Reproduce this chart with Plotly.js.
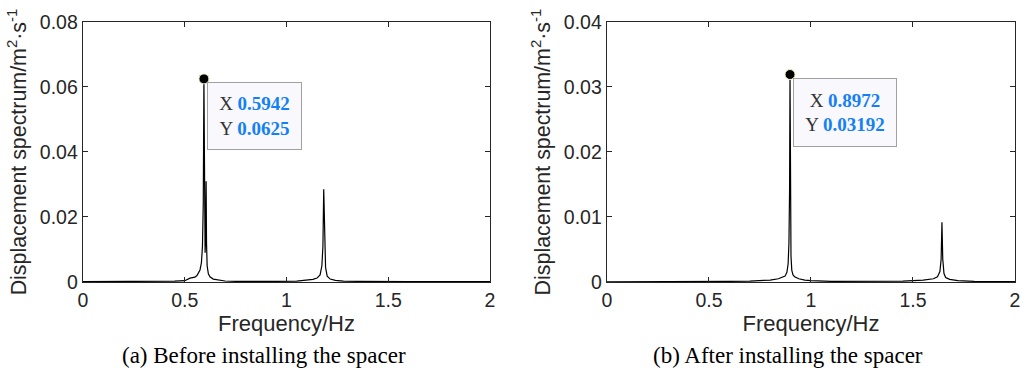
<!DOCTYPE html>
<html>
<head>
<meta charset="utf-8">
<script src="https://cdn.plot.ly/plotly-3.0.1.min.js"></script>
<style>html,body{margin:0;padding:0;background:#fff;}#chart{width:1021px;height:376px;}</style>
</head>
<body>
<div id="chart"></div>
<script>
// (a) Before installing the spacer
const freqA = [0, 0.1, 0.2, 0.3, 0.4, 0.45, 0.5, 0.526, 0.55, 0.56, 0.575, 0.582, 0.587, 0.591, 0.5942, 0.597, 0.6, 0.603, 0.605, 0.607, 0.61, 0.616, 0.624, 0.64, 0.67, 0.698, 0.75, 0.85, 0.95, 1.05, 1.1, 1.13, 1.15, 1.165, 1.174, 1.179, 1.183, 1.187, 1.192, 1.2, 1.215, 1.24, 1.28, 1.35, 1.45, 1.6, 1.8, 2.0];
const specA = [0.0001, 0.0001, 0.0001, 0.00012, 0.00018, 0.00025, 0.0004, 0.0012, 0.0015, 0.002, 0.0037, 0.006, 0.011, 0.024, 0.0625, 0.02, 0.009, 0.014, 0.031, 0.012, 0.005, 0.0025, 0.0016, 0.0009, 0.0005, 0.0003, 0.0002, 0.00015, 0.0002, 0.0003, 0.0005, 0.0008, 0.0012, 0.0022, 0.005, 0.011, 0.0285, 0.011, 0.0045, 0.0018, 0.0009, 0.0005, 0.0003, 0.0002, 0.00012, 0.0001, 0.0001, 0.0001];
// (b) After installing the spacer
const freqB = [0, 0.2, 0.4, 0.6, 0.7, 0.8, 0.84, 0.86, 0.873, 0.882, 0.888, 0.892, 0.895, 0.8972, 0.8995, 0.902, 0.906, 0.912, 0.92, 0.94, 0.97, 1.0, 1.1, 1.3, 1.45, 1.55, 1.6, 1.62, 1.632, 1.638, 1.642, 1.646, 1.652, 1.66, 1.68, 1.72, 1.8, 2.0];
const specB = [0.00003, 0.00003, 0.00005, 0.0001, 0.00015, 0.0003, 0.0005, 0.0007, 0.0009, 0.0015, 0.0028, 0.006, 0.014, 0.03192, 0.012, 0.004, 0.0018, 0.0011, 0.0008, 0.0005, 0.0003, 0.0002, 0.0001, 0.0001, 0.00015, 0.0003, 0.0005, 0.0008, 0.0016, 0.0035, 0.0092, 0.0035, 0.0013, 0.0007, 0.0004, 0.0002, 0.0001, 0.00005];

const xTicks = [0, 0.5, 1, 1.5, 2];
const xTickText = ['0', '0.5', '1', '1.5', '2'];
const yTicksA = [0, 0.02, 0.04, 0.06, 0.08];
const yTickTextA = ['0', '0.02', '0.04', '0.06', '0.08'];
const yTicksB = [0, 0.01, 0.02, 0.03, 0.04];
const yTickTextB = ['0', '0.01', '0.02', '0.03', '0.04'];

const xTitle = 'Frequency/Hz';
const yTitle = 'Displacement spectrum/m<sup>2</sup>·s<sup>-1</sup>';
const captionA = '(a) Before installing the spacer';
const captionB = '(b) After installing the spacer';

function peakIndex(arr) { let k = 0; arr.forEach((v, i) => { if (v > arr[k]) k = i; }); return k; }
const pA = peakIndex(specA), pB = peakIndex(specB);

const lineStyle = {color: '#000', width: 1.2};
const markerStyle = {color: '#000', size: 10, line: {color: '#f3eec0', width: 1}};

const traces = [
  {x: freqA, y: specA, type: 'scatter', mode: 'lines', line: lineStyle, xaxis: 'x', yaxis: 'y', hoverinfo: 'none'},
  {x: freqB, y: specB, type: 'scatter', mode: 'lines', line: lineStyle, xaxis: 'x2', yaxis: 'y2', hoverinfo: 'none'},
  {x: [freqA[pA]], y: [specA[pA]], type: 'scatter', mode: 'markers', marker: markerStyle, xaxis: 'x', yaxis: 'y', cliponaxis: false},
  {x: [freqB[pB]], y: [specB[pB]], type: 'scatter', mode: 'markers', marker: markerStyle, xaxis: 'x2', yaxis: 'y2', cliponaxis: false}
];

const tickFont = {family: 'Liberation Sans, Arial, sans-serif', size: 19.5, color: '#262626'};
const xTitleFont = {family: 'Liberation Sans, Arial, sans-serif', size: 22, color: '#262626'};
const yTitleFont = {family: 'Liberation Sans, Arial, sans-serif', size: 21.4, color: '#262626'};

function xAxis(domain, anchor) {
  return {domain: domain, anchor: anchor, range: [0, 2], tickvals: xTicks, ticktext: xTickText,
    ticks: 'inside', ticklen: 5, tickcolor: '#262626', showline: true, linecolor: '#262626', linewidth: 1.3,
    mirror: 'ticks', showgrid: false, zeroline: false, tickfont: tickFont,
    title: {text: xTitle, font: xTitleFont, standoff: 4}};
}
function yAxis(anchor, max, vals, text) {
  return {domain: [0.25, 0.9415], anchor: anchor, range: [0, max], tickvals: vals, ticktext: text,
    ticks: 'inside', ticklen: 5, tickcolor: '#262626', showline: true, linecolor: '#262626', linewidth: 1.3,
    mirror: 'ticks', showgrid: false, zeroline: false, tickfont: tickFont,
    title: {text: yTitle, font: yTitleFont, standoff: 7}};
}

const tipFont = {family: 'Liberation Serif, Times New Roman, serif', size: 19, color: '#333'};
function tipText(xv, yv) {
  return 'X <b><span style="color:#1480f5">' + xv + '</span></b><br>Y <b><span style="color:#1480f5">' + yv + '</span></b>';
}

const captionFont = {family: 'Liberation Serif, Times New Roman, serif', size: 23, color: '#000'};

const layout = {
  width: 1021, height: 376,
  margin: {l: 0, r: 0, t: 0, b: 0},
  paper_bgcolor: '#fff', plot_bgcolor: '#fff',
  showlegend: false,
  xaxis: xAxis([0.0813, 0.4799], 'y'),
  yaxis: yAxis('x', 0.08, yTicksA, yTickTextA),
  xaxis2: xAxis([0.5945, 0.9941], 'y2'),
  yaxis2: yAxis('x2', 0.04, yTicksB, yTickTextB),
  annotations: [
    {xref: 'x', yref: 'y', x: freqA[pA], y: specA[pA], text: tipText(freqA[pA], specA[pA]), showarrow: false,
     xanchor: 'left', yanchor: 'top', xshift: 3, yshift: -3, align: 'center', font: tipFont,
     bgcolor: '#f8f8fd', bordercolor: '#a0a0a0', borderwidth: 1, borderpad: 3, width: 87, height: 60},
    {xref: 'x2', yref: 'y2', x: freqB[pB], y: specB[pB], text: tipText(freqB[pB], specB[pB]), showarrow: false,
     xanchor: 'left', yanchor: 'top', xshift: 3, yshift: -3, align: 'center', font: tipFont,
     bgcolor: '#f8f8fd', bordercolor: '#a0a0a0', borderwidth: 1, borderpad: 3, width: 96, height: 61},
    {xref: 'paper', yref: 'paper', x: 264 / 1021, y: (376 - 355) / 376, text: captionA, showarrow: false,
     xanchor: 'center', yanchor: 'middle', font: captionFont},
    {xref: 'paper', yref: 'paper', x: 788 / 1021, y: (376 - 355) / 376, text: captionB, showarrow: false,
     xanchor: 'center', yanchor: 'middle', font: captionFont}
  ]
};

Plotly.newPlot('chart', traces, layout, {staticPlot: true, displayModeBar: false});
</script>
</body>
</html>
